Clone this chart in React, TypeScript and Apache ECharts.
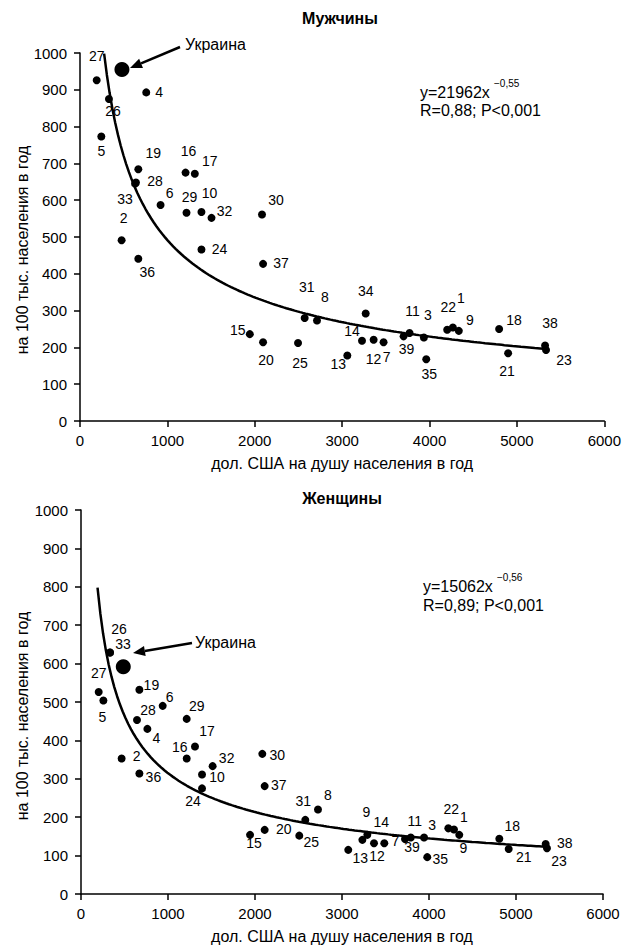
import React, { useEffect, useRef } from "react";
import * as echarts from "echarts";

// ---------- data ----------
const xTicks = [0, 1000, 2000, 3000, 4000, 5000, 6000];
const yTicks = [0, 100, 200, 300, 400, 500, 600, 700, 800, 900, 1000];

const maleIds = ["27","26","4","5","19","28","33","16","17","6","29","10","32","30","2","36","24","37","31","8","15","20","25","13","34","14","12","7","39","11","3","35","22","1","9","18","21","38","23"];
const maleX = [191,331,758,244,667,640,630,1208,1314,922,1219,1390,1505,2083,476,667,1390,2095,2571,2712,1943,2095,2495,3059,3269,3227,3360,3474,3703,3771,3935,3962,4202,4267,4335,4796,4899,5322,5333];
const maleY = [926,875,893,773,684,648,645,675,672,587,566,568,552,561,491,441,466,427,280,273,236,214,212,178,292,218,221,214,230,239,227,168,248,254,245,250,184,205,193];

const femaleIds = ["27","5","26","33","19","6","28","4","29","17","16","2","36","32","10","24","30","37","31","8","15","20","25","13","9","14","12","7","39","11","3","35","22","1","9","18","21","38","23"];
const femaleX = [203,257,333,333,671,939,644,763,1215,1310,1215,467,671,1513,1391,1391,2084,2111,2578,2724,1943,2111,2509,3072,3291,3234,3368,3486,3724,3790,3943,3980,4222,4287,4348,4808,4916,5341,5356];
const femaleY = [526,504,629,629,532,490,453,430,456,384,353,353,314,333,311,275,365,281,193,220,154,167,152,115,154,141,132,132,143,147,147,96,171,168,154,144,117,130,119];

const ukraineMale: [number, number] = [480, 955];
const ukraineFemale: [number, number] = [486, 592];

// fitted power curves y = a * x^b (as printed on the chart)
const maleFit = { a: 21962, b: -0.55, from: 276, to: 5330 };
const femaleFit = { a: 15062, b: -0.56, from: 190, to: 5330 };
const fitSamples = 160;

// ---------- label placement (pixel offsets from each dot) ----------
const maleLabelOffsets: [number, number][] = [
  [0,-24],[4,12],[13,0],[0,14],[15,-16],[19,-2],[-10,15],[3,-22],[15,-13],[9,-12],[3,-16],[8,-19],[13,-7],[14,-15],
  [2,-22],[9,13],[18,-1],[18,-1],[2,-31],[8,-24],[-12,-4],[3,18],[2,20],[-9,9],[0,-23],[-10,-10],[0,19],[3,15],
  [3,13],[3,-22],[4,-22],[3,15],[1,-23],[8,-30],[11,-11],[15,-9],[-1,18],[5,-23],[18,10]
];
const femaleLabelOffsets: [number, number][] = [
  [0,-19],[-1,17],[9,-23],[13,-8],[12,-5],[7,-9],[11,-10],[9,9],[10,-13],[12,-16],[-7,-11],[15,-2],[14,4],[14,-8],
  [15,2],[-9,13],[15,1],[14,-1],[-2,-19],[10,-15],[4,8],[19,-1],[12,6],[12,8],[-1,-23],[19,-18],[3,13],[11,-2],
  [7,8],[4,-17],[8,-13],[13,2],[3,-19],[10,-12],[4,13],[13,-13],[15,8],[19,-1],[12,13]
];

const FONT = "'Liberation Sans', Arial, sans-serif";
const INK = "#000";

function fitCurve(f: { a: number; b: number; from: number; to: number }) {
  const pts: [number, number][] = [];
  for (let i = 0; i <= fitSamples; i++) {
    const x = f.from + ((f.to - f.from) * i) / fitSamples;
    pts.push([x, f.a * Math.pow(x, f.b)]);
  }
  return pts;
}

function arrow(tail: [number, number], tip: [number, number]) {
  const dx = tip[0] - tail[0];
  const dy = tip[1] - tail[1];
  const len = Math.sqrt(dx * dx + dy * dy);
  const ux = dx / len, uy = dy / len;
  const hl = 12, hw = 5;
  const bx = tip[0] - ux * hl, by = tip[1] - uy * hl;
  return [
    { type: "line", shape: { x1: tail[0], y1: tail[1], x2: bx, y2: by }, style: { stroke: INK, lineWidth: 2.5 } },
    {
      type: "polygon",
      shape: { points: [tip, [bx - uy * hw, by + ux * hw], [bx + uy * hw, by - ux * hw]] },
      style: { fill: INK },
    },
  ];
}

export default function App() {
  const ref = useRef<HTMLDivElement>(null);
  useEffect(() => {
    if (!ref.current) return;
    const chart = echarts.init(ref.current, undefined, { renderer: "svg" });
    const axisText = { color: INK, fontSize: 15, fontFamily: FONT };
    const mkX = (gi: number) => ({
      type: "value",
      gridIndex: gi,
      min: xTicks[0],
      max: xTicks[xTicks.length - 1],
      interval: 1000,
      axisLine: { lineStyle: { color: INK, width: 1.5 } },
      axisTick: { show: true, length: 6, lineStyle: { color: INK, width: 1.5 } },
      axisLabel: { ...axisText, margin: 12, formatter: (v: number) => String(v) },
      splitLine: { show: false },
      name: "дол. США на душу населения в год",
      nameLocation: "middle",
      nameGap: 34,
      nameTextStyle: { ...axisText, fontSize: 16 },
    });
    const mkY = (gi: number) => ({
      type: "value",
      gridIndex: gi,
      min: yTicks[0],
      max: yTicks[yTicks.length - 1],
      interval: 100,
      axisLine: { show: true, lineStyle: { color: INK, width: 1.5 } },
      axisTick: { show: true, length: 6, lineStyle: { color: INK, width: 1.5 } },
      axisLabel: { ...axisText, margin: 13, formatter: (v: number) => String(v) },
      splitLine: { show: false },
    });
    const mkPoints = (ids: string[], xs: number[], ys: number[], offs: [number, number][]) =>
      ids.map((id, i) => ({ name: id, value: [xs[i], ys[i]], label: { offset: offs[i] } }));
    const dotSeries = (gi: number, data: any[]) => ({
      type: "scatter",
      xAxisIndex: gi,
      yAxisIndex: gi,
      data,
      symbolSize: 8,
      itemStyle: { color: INK, opacity: 1 },
      z: 3,
      label: {
        show: true,
        position: "inside",
        formatter: (p: any) => p.name,
        color: INK,
        fontSize: 14,
        fontFamily: FONT,
        align: "center",
        verticalAlign: "middle",
      },
    });
    const lineSeries = (gi: number, pts: [number, number][]) => ({
      type: "line",
      xAxisIndex: gi,
      yAxisIndex: gi,
      data: pts,
      showSymbol: false,
      symbol: "none",
      lineStyle: { color: INK, width: 2.5 },
      z: 2,
    });
    const ukr = (gi: number, p: [number, number]) => ({
      type: "scatter",
      xAxisIndex: gi,
      yAxisIndex: gi,
      data: [{ name: "Украина", value: p }],
      symbolSize: 15,
      itemStyle: { color: INK, opacity: 1 },
      z: 4,
    });
    const txt = (x: number, y: number, text: string, size: number, extra: any = {}) => ({
      type: "text",
      x,
      y,
      style: { text, fill: INK, fontSize: size, fontFamily: FONT, verticalAlign: "middle", ...extra },
    });

    chart.setOption({
      animation: false,
      backgroundColor: "#fff",
      grid: [
        { left: 80, top: 53, width: 525, height: 368 },
        { left: 81, top: 510, width: 522, height: 384 },
      ],
      xAxis: [mkX(0), mkX(1)],
      yAxis: [mkY(0), mkY(1)],
      series: [
        lineSeries(0, fitCurve(maleFit)),
        dotSeries(0, mkPoints(maleIds, maleX, maleY, maleLabelOffsets)),
        ukr(0, ukraineMale),
        lineSeries(1, fitCurve(femaleFit)),
        dotSeries(1, mkPoints(femaleIds, femaleX, femaleY, femaleLabelOffsets)),
        ukr(1, ukraineFemale),
      ],
      graphic: [
        txt(340, 18, "Мужчины", 16, { fontWeight: "bold", align: "center" }),
        txt(342, 498, "Женщины", 16, { fontWeight: "bold", align: "center" }),
        txt(420, 92, "y=21962x", 16),
        txt(494, 83, "−0,55", 10),
        txt(420, 110, "R=0,88; P<0,001", 16),
        txt(423, 586, "y=15062x", 16),
        txt(497, 577, "−0,56", 10),
        txt(423, 605, "R=0,89; P<0,001", 16),
        txt(185, 44, "Украина", 16),
        txt(195, 642, "Украина", 16),
        ...arrow([180, 47], [130, 68]),
        ...arrow([192, 643], [133, 653]),
        {
          type: "text",
          x: 22,
          y: 250,
          rotation: Math.PI / 2,
          style: { text: "на 100 тыс. населения в год", fill: INK, fontSize: 16, fontFamily: FONT, align: "center", verticalAlign: "middle" },
        },
        {
          type: "text",
          x: 22,
          y: 716,
          rotation: Math.PI / 2,
          style: { text: "на 100 тыс. населения в год", fill: INK, fontSize: 16, fontFamily: FONT, align: "center", verticalAlign: "middle" },
        },
      ],
    });
    return () => chart.dispose();
  }, []);
  return <div ref={ref} style={{ position: "absolute", left: 0, top: 0, width: 624, height: 945 }} />;
}
